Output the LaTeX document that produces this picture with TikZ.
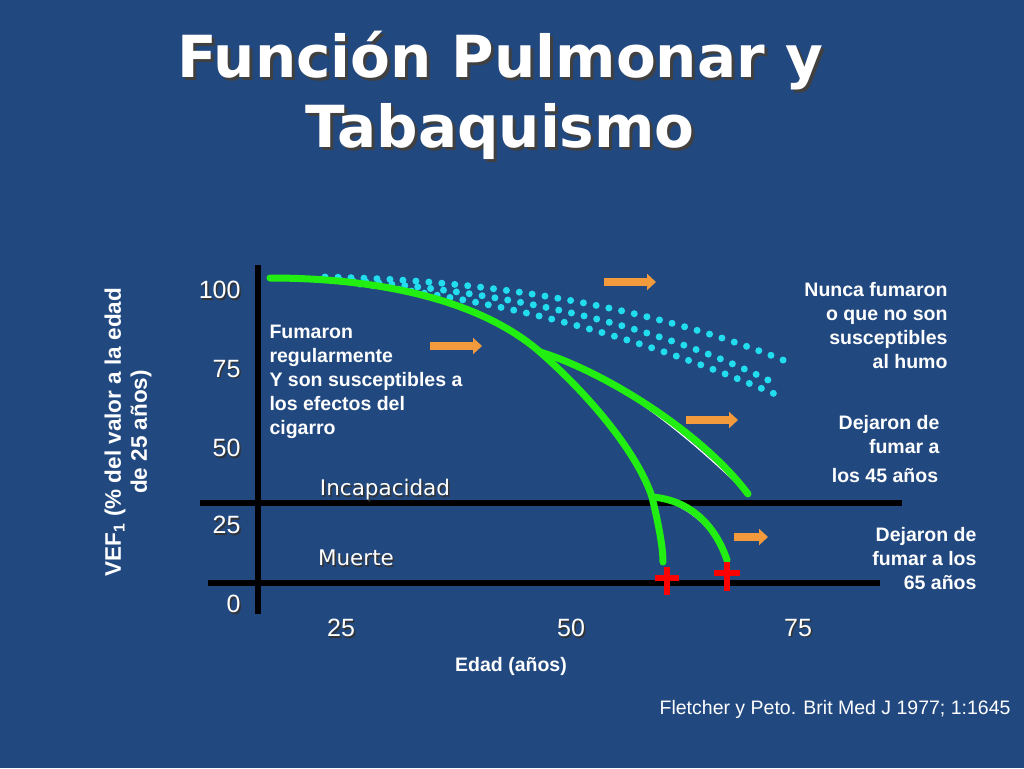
\documentclass[tikz,border=0pt]{standalone}
\usepackage{fontspec}
\setmainfont{Liberation Sans}
\newfontfamily\dv{DejaVu Sans}
\usetikzlibrary{arrows.meta}
\definecolor{bg}{HTML}{21487F}
\definecolor{grn}{HTML}{22EE11}
\definecolor{cy}{HTML}{22DDEE}
\definecolor{org}{HTML}{F39A3C}
\begin{document}
\begin{tikzpicture}[x=1pt,y=-1pt,
  wt/.style={text=white,font=\bfseries\fontsize{19.5}{24}\selectfont},
  tick/.style={text=white,font=\fontsize{25}{25}\selectfont},
  sh/.style={text=black!80},
  ax/.style={line width=6pt,black},
  cur/.style={grn,line width=7pt,line cap=round},
  dots/.style={cy,line width=7pt,line cap=round,dash pattern=on 0pt off 13pt},
  arr/.style={org,line width=8pt,-{Triangle[length=9pt,width=16pt]}},
  crs/.style={red,line width=6pt}]
\fill[bg] (0,0) rectangle (1024,768);
\useasboundingbox (0,0) rectangle (1024,768);
% title
\foreach \dx/\c in {3/black!75,0/white}{
\node[text=\c,font=\dv\bfseries\fontsize{58}{70}\selectfont,align=center] (t\dx) at (500+\dx,95+\dx) {Función Pulmonar y\\Tabaquismo};}
% axes
\draw[ax] (258,265) -- (258,614);
\draw[ax] (200,503) -- (902,503);
\draw[ax] (208,583) -- (880,583);
% dotted rows
\draw[dots] (325,277) .. controls (500,280) and (660,310) .. (788,362);
\draw[dots] (340,280) .. controls (520,292) and (670,330) .. (778,385);
\draw[dots] (360,284) .. controls (530,305) and (660,345) .. (782,397);
% green curves
\coordinate (a0) at (270,278);
\coordinate (a1) at (540,352);
\coordinate (a2) at (652,497);
\coordinate (a3) at (663,562);
\coordinate (b1) at (748,494);
\coordinate (c1) at (727,560);
\draw[cur] (a0) .. controls (380,278) and (480,300) .. (a1) .. controls (600,405) and (640,460) .. (a2) .. controls (660,530) and (663,550) .. (a3);
\draw[white,line width=1.2pt] (a1) .. controls (600,375) and (650,400) .. (b1);
\draw[cur] (a1) .. controls (600,370) and (700,430) .. (b1);
\draw[white,line width=1.2pt] (a2) .. controls (690,505) and (715,530) .. (c1);
\draw[cur] (a2) .. controls (690,500) and (715,525) .. (c1);
% arrows
\draw[arr] (604,282) -- (656,282);
\draw[arr] (430,346) -- (482,346);
\draw[arr] (686,420) -- (738,420);
\draw[arr] (734,537) -- (768,537);
% crosses
\draw[crs] (667,567) -- (667,595) (655,578) -- (679,578);
\draw[crs] (727,562) -- (727,591) (714,573) -- (740,573);
% ticks
\foreach \y/\t in {290/100,369/75,448/50,525/25,604/0}{
 \node[tick,sh,anchor=east] at (245.5,\y+1.5) {\t};
 \node[tick,anchor=east] (y\t) at (244,\y) {\t};}
\foreach \x/\t in {341/25,571/50,798/75}{
 \node[tick,sh] at (\x+1.5,629.5) {\t};
 \node[tick] (x\t) at (\x,628) {\t};}
\foreach \dx/\c in {1.5/black!80,0/white}{
 \node[text=\c,font=\dv\fontsize{21.5}{21.5}\selectfont] at (385+\dx,490+\dx) {Incapacidad};
 \node[text=\c,font=\dv\fontsize{21.5}{21.5}\selectfont] at (356+\dx,558+\dx) {Muerte};}
% texts
\node[wt,align=left,anchor=north west] (fum) at (266,322) {Fumaron\\regularmente\\Y son susceptibles a\\los efectos del\\cigarro};
\node[wt,align=right,anchor=north east] (nun) at (951,279) {Nunca fumaron\\o que no son\\susceptibles\\al humo};
\node[wt,align=right,anchor=north east] (d45) at (943,412) {Dejaron de\\fumar a};
\node[wt] (l45) at (885,476) {los 45 años};
\node[wt,align=right,anchor=north east] (d65) at (980,524) {Dejaron de\\fumar a los\\65 años};
\node[wt,font=\bfseries\fontsize{22.5}{26}\selectfont,align=center,rotate=90] (vef) at (128,432) {VEF\textsubscript{1} (\% del valor a la edad\\de 25 años)};
\node[wt] (edad) at (511,666) {Edad (años)};
\node[text=white,font=\fontsize{19.5}{19.5}\selectfont,anchor=east] (cit) at (1014,709) {Fletcher y Peto. Brit Med J 1977; 1:1645};
\end{tikzpicture}
\end{document}
